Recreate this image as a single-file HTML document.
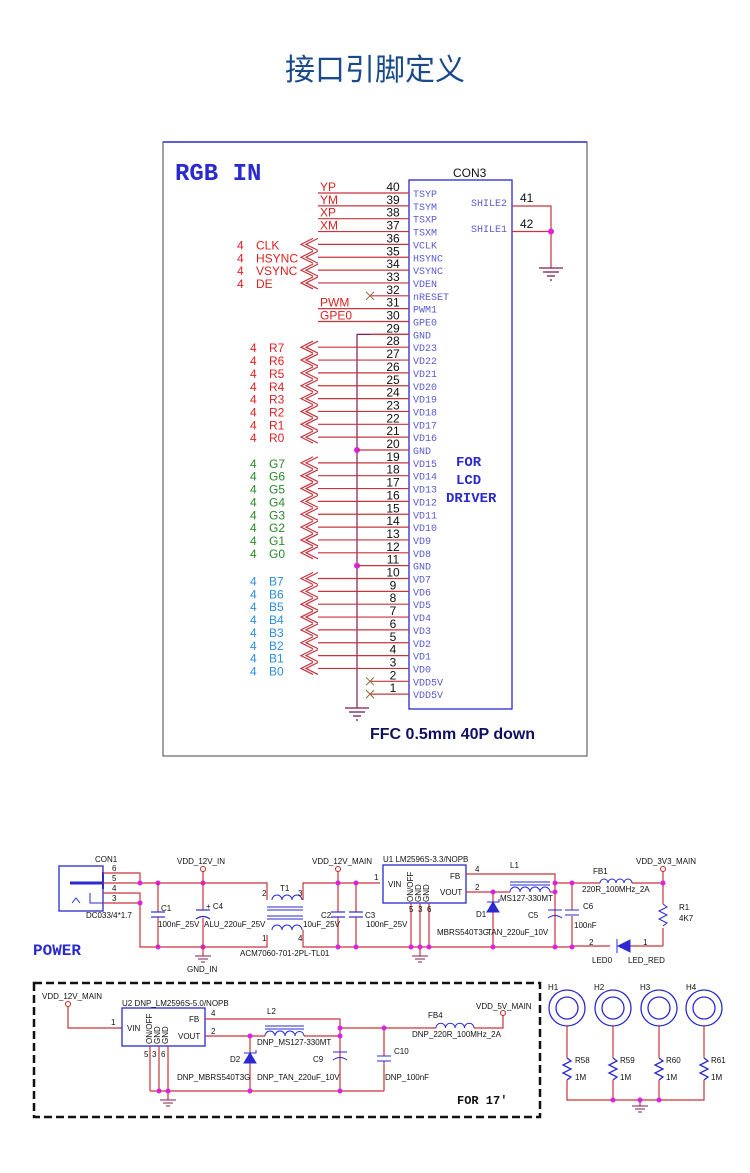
<!DOCTYPE html>
<html><head><meta charset="utf-8"><style>
body{margin:0;background:#fff;}
svg{display:block;font-family:"Liberation Sans",Arial,sans-serif;}
.pn{font-size:12px;fill:#111;text-anchor:middle}
.pl{font-family:"Liberation Mono",monospace;font-size:10px;fill:#5a5ad0}
.rd{fill:#e02020;font-size:12px}
.gr{fill:#2a8a2a;font-size:12px}
.bl{fill:#2d8ee0;font-size:12px}
.t{font-size:8px;fill:#111}
.w{stroke:#c8343c;stroke-width:1.2;fill:none}
.m{stroke:#7a1e52;stroke-width:1.2;fill:none}
.d{fill:#e020e0}
.bx{stroke:#2a2ad0;stroke-width:1.3;fill:none}
</style></head><body>
<svg width="750" height="1173" viewBox="0 0 750 1173" xmlns="http://www.w3.org/2000/svg">
<text x="375" y="80" text-anchor="middle" font-family="'Liberation Sans','Noto Sans CJK SC',sans-serif" font-size="30" fill="#1b4a8a">接口引脚定义</text>
<rect x="163" y="142" width="424" height="614" fill="none" stroke="#444" stroke-width="1"/>
<line x1="163" y1="142" x2="587" y2="142" stroke="#2a2ad0" stroke-width="1.5"/>
<text x="175" y="180" font-family="'Liberation Mono',monospace" font-weight="bold" font-size="24" fill="#2a2ad0">RGB IN</text>
<text x="453" y="177" font-size="12" fill="#111">CON3</text>
<rect x="409" y="180" width="103" height="529" class="bx"/>
<!-- shield -->
<polyline points="512,206 551,206 551,268" class="w"/><line x1="512" y1="231.5" x2="551" y2="231.5" class="w"/>
<circle cx="551" cy="231.5" r="3" class="d"/>
<text x="520" y="202" class="pn" style="text-anchor:start">41</text><text x="520" y="228" class="pn" style="text-anchor:start">42</text>
<text x="507" y="206" class="pl" text-anchor="end">SHILE2</text><text x="507" y="232" class="pl" text-anchor="end">SHILE1</text>
<g stroke="#7a1e52" stroke-width="1.3"><line x1="539" y1="268" x2="563" y2="268"/><line x1="543" y1="272" x2="559" y2="272"/><line x1="547" y1="276" x2="555" y2="276"/><line x1="550" y1="280" x2="552" y2="280"/></g>
<!-- GND bus -->
<polyline points="409,334.4 357,334.4 357,708" class="m"/>
<circle cx="357" cy="450" r="3" class="d"/><circle cx="357" cy="565.7" r="3" class="d"/>
<g stroke="#7a1e52" stroke-width="1.3"><line x1="345" y1="708" x2="369" y2="708"/><line x1="349" y1="712" x2="365" y2="712"/><line x1="353" y1="716" x2="361" y2="716"/><line x1="356" y1="720" x2="358" y2="720"/></g>
<g id="rows">
<!-- rows -->
<g transform="translate(0,193)"><line x1="318" y1="0" x2="409" y2="0" class="w"/><text x="393" y="-2" class="pn">40</text><text x="413" y="4" class="pl">TSYP</text><text x="320" y="-2" class="rd">YP</text></g>
<g transform="translate(0,205.85)"><line x1="318" y1="0" x2="409" y2="0" class="w"/><text x="393" y="-2" class="pn">39</text><text x="413" y="4" class="pl">TSYM</text><text x="320" y="-2" class="rd">YM</text></g>
<g transform="translate(0,218.7)"><line x1="318" y1="0" x2="409" y2="0" class="w"/><text x="393" y="-2" class="pn">38</text><text x="413" y="4" class="pl">TSXP</text><text x="320" y="-2" class="rd">XP</text></g>
<g transform="translate(0,231.55)"><line x1="318" y1="0" x2="409" y2="0" class="w"/><text x="393" y="-2" class="pn">37</text><text x="413" y="4" class="pl">TSXM</text><text x="320" y="-2" class="rd">XM</text></g>
<g transform="translate(0,244.4)"><line x1="318" y1="0" x2="409" y2="0" class="w"/><text x="393" y="-2" class="pn">36</text><text x="413" y="4" class="pl">VCLK</text><text x="237" y="5" class="rd">4</text><text x="256" y="5" class="rd">CLK</text><path d="M318,-6 L306,0 L318,6 M313,-6 L301,0 L313,6" class="w"/></g>
<g transform="translate(0,257.25)"><line x1="318" y1="0" x2="409" y2="0" class="w"/><text x="393" y="-2" class="pn">35</text><text x="413" y="4" class="pl">HSYNC</text><text x="237" y="5" class="rd">4</text><text x="256" y="5" class="rd">HSYNC</text><path d="M318,-6 L306,0 L318,6 M313,-6 L301,0 L313,6" class="w"/></g>
<g transform="translate(0,270.1)"><line x1="318" y1="0" x2="409" y2="0" class="w"/><text x="393" y="-2" class="pn">34</text><text x="413" y="4" class="pl">VSYNC</text><text x="237" y="5" class="rd">4</text><text x="256" y="5" class="rd">VSYNC</text><path d="M318,-6 L306,0 L318,6 M313,-6 L301,0 L313,6" class="w"/></g>
<g transform="translate(0,282.95)"><line x1="318" y1="0" x2="409" y2="0" class="w"/><text x="393" y="-2" class="pn">33</text><text x="413" y="4" class="pl">VDEN</text><text x="237" y="5" class="rd">4</text><text x="256" y="5" class="rd">DE</text><path d="M318,-6 L306,0 L318,6 M313,-6 L301,0 L313,6" class="w"/></g>
<g transform="translate(0,295.8)"><line x1="370" y1="0" x2="409" y2="0" class="w"/><text x="393" y="-2" class="pn">32</text><text x="413" y="4" class="pl">nRESET</text><path d="M366,-4 L374,4 M366,4 L374,-4" stroke="#8a6a3a" stroke-width="1"/></g>
<g transform="translate(0,308.65)"><line x1="318" y1="0" x2="409" y2="0" class="w"/><text x="393" y="-2" class="pn">31</text><text x="413" y="4" class="pl">PWM1</text><text x="320" y="-2" class="rd">PWM</text></g>
<g transform="translate(0,321.5)"><line x1="318" y1="0" x2="409" y2="0" class="w"/><text x="393" y="-2" class="pn">30</text><text x="413" y="4" class="pl">GPE0</text><text x="320" y="-2" class="rd">GPE0</text></g>
<g transform="translate(0,334.35)"><line x1="370" y1="0" x2="409" y2="0" class="w"/><text x="393" y="-2" class="pn">29</text><text x="413" y="4" class="pl">GND</text></g>
<g transform="translate(0,347.2)"><line x1="318" y1="0" x2="409" y2="0" class="w"/><text x="393" y="-2" class="pn">28</text><text x="413" y="4" class="pl">VD23</text><text x="250" y="5" class="rd">4</text><text x="269" y="5" class="rd">R7</text><path d="M318,-6 L306,0 L318,6 M313,-6 L301,0 L313,6" class="w"/></g>
<g transform="translate(0,360.05)"><line x1="318" y1="0" x2="409" y2="0" class="w"/><text x="393" y="-2" class="pn">27</text><text x="413" y="4" class="pl">VD22</text><text x="250" y="5" class="rd">4</text><text x="269" y="5" class="rd">R6</text><path d="M318,-6 L306,0 L318,6 M313,-6 L301,0 L313,6" class="w"/></g>
<g transform="translate(0,372.9)"><line x1="318" y1="0" x2="409" y2="0" class="w"/><text x="393" y="-2" class="pn">26</text><text x="413" y="4" class="pl">VD21</text><text x="250" y="5" class="rd">4</text><text x="269" y="5" class="rd">R5</text><path d="M318,-6 L306,0 L318,6 M313,-6 L301,0 L313,6" class="w"/></g>
<g transform="translate(0,385.75)"><line x1="318" y1="0" x2="409" y2="0" class="w"/><text x="393" y="-2" class="pn">25</text><text x="413" y="4" class="pl">VD20</text><text x="250" y="5" class="rd">4</text><text x="269" y="5" class="rd">R4</text><path d="M318,-6 L306,0 L318,6 M313,-6 L301,0 L313,6" class="w"/></g>
<g transform="translate(0,398.6)"><line x1="318" y1="0" x2="409" y2="0" class="w"/><text x="393" y="-2" class="pn">24</text><text x="413" y="4" class="pl">VD19</text><text x="250" y="5" class="rd">4</text><text x="269" y="5" class="rd">R3</text><path d="M318,-6 L306,0 L318,6 M313,-6 L301,0 L313,6" class="w"/></g>
<g transform="translate(0,411.45)"><line x1="318" y1="0" x2="409" y2="0" class="w"/><text x="393" y="-2" class="pn">23</text><text x="413" y="4" class="pl">VD18</text><text x="250" y="5" class="rd">4</text><text x="269" y="5" class="rd">R2</text><path d="M318,-6 L306,0 L318,6 M313,-6 L301,0 L313,6" class="w"/></g>
<g transform="translate(0,424.3)"><line x1="318" y1="0" x2="409" y2="0" class="w"/><text x="393" y="-2" class="pn">22</text><text x="413" y="4" class="pl">VD17</text><text x="250" y="5" class="rd">4</text><text x="269" y="5" class="rd">R1</text><path d="M318,-6 L306,0 L318,6 M313,-6 L301,0 L313,6" class="w"/></g>
<g transform="translate(0,437.15)"><line x1="318" y1="0" x2="409" y2="0" class="w"/><text x="393" y="-2" class="pn">21</text><text x="413" y="4" class="pl">VD16</text><text x="250" y="5" class="rd">4</text><text x="269" y="5" class="rd">R0</text><path d="M318,-6 L306,0 L318,6 M313,-6 L301,0 L313,6" class="w"/></g>
<g transform="translate(0,450)"><line x1="357" y1="0" x2="409" y2="0" class="w"/><text x="393" y="-2" class="pn">20</text><text x="413" y="4" class="pl">GND</text></g>
<g transform="translate(0,462.85)"><line x1="318" y1="0" x2="409" y2="0" class="w"/><text x="393" y="-2" class="pn">19</text><text x="413" y="4" class="pl">VD15</text><text x="250" y="5" class="gr">4</text><text x="269" y="5" class="gr">G7</text><path d="M318,-6 L306,0 L318,6 M313,-6 L301,0 L313,6" class="w"/></g>
<g transform="translate(0,475.7)"><line x1="318" y1="0" x2="409" y2="0" class="w"/><text x="393" y="-2" class="pn">18</text><text x="413" y="4" class="pl">VD14</text><text x="250" y="5" class="gr">4</text><text x="269" y="5" class="gr">G6</text><path d="M318,-6 L306,0 L318,6 M313,-6 L301,0 L313,6" class="w"/></g>
<g transform="translate(0,488.55)"><line x1="318" y1="0" x2="409" y2="0" class="w"/><text x="393" y="-2" class="pn">17</text><text x="413" y="4" class="pl">VD13</text><text x="250" y="5" class="gr">4</text><text x="269" y="5" class="gr">G5</text><path d="M318,-6 L306,0 L318,6 M313,-6 L301,0 L313,6" class="w"/></g>
<g transform="translate(0,501.4)"><line x1="318" y1="0" x2="409" y2="0" class="w"/><text x="393" y="-2" class="pn">16</text><text x="413" y="4" class="pl">VD12</text><text x="250" y="5" class="gr">4</text><text x="269" y="5" class="gr">G4</text><path d="M318,-6 L306,0 L318,6 M313,-6 L301,0 L313,6" class="w"/></g>
<g transform="translate(0,514.25)"><line x1="318" y1="0" x2="409" y2="0" class="w"/><text x="393" y="-2" class="pn">15</text><text x="413" y="4" class="pl">VD11</text><text x="250" y="5" class="gr">4</text><text x="269" y="5" class="gr">G3</text><path d="M318,-6 L306,0 L318,6 M313,-6 L301,0 L313,6" class="w"/></g>
<g transform="translate(0,527.1)"><line x1="318" y1="0" x2="409" y2="0" class="w"/><text x="393" y="-2" class="pn">14</text><text x="413" y="4" class="pl">VD10</text><text x="250" y="5" class="gr">4</text><text x="269" y="5" class="gr">G2</text><path d="M318,-6 L306,0 L318,6 M313,-6 L301,0 L313,6" class="w"/></g>
<g transform="translate(0,539.95)"><line x1="318" y1="0" x2="409" y2="0" class="w"/><text x="393" y="-2" class="pn">13</text><text x="413" y="4" class="pl">VD9</text><text x="250" y="5" class="gr">4</text><text x="269" y="5" class="gr">G1</text><path d="M318,-6 L306,0 L318,6 M313,-6 L301,0 L313,6" class="w"/></g>
<g transform="translate(0,552.8)"><line x1="318" y1="0" x2="409" y2="0" class="w"/><text x="393" y="-2" class="pn">12</text><text x="413" y="4" class="pl">VD8</text><text x="250" y="5" class="gr">4</text><text x="269" y="5" class="gr">G0</text><path d="M318,-6 L306,0 L318,6 M313,-6 L301,0 L313,6" class="w"/></g>
<g transform="translate(0,565.65)"><line x1="357" y1="0" x2="409" y2="0" class="w"/><text x="393" y="-2" class="pn">11</text><text x="413" y="4" class="pl">GND</text></g>
<g transform="translate(0,578.5)"><line x1="318" y1="0" x2="409" y2="0" class="w"/><text x="393" y="-2" class="pn">10</text><text x="413" y="4" class="pl">VD7</text><text x="250" y="7" class="bl">4</text><text x="269" y="7" class="bl">B7</text><path d="M318,-6 L306,0 L318,6 M313,-6 L301,0 L313,6" class="w"/></g>
<g transform="translate(0,591.35)"><line x1="318" y1="0" x2="409" y2="0" class="w"/><text x="393" y="-2" class="pn">9</text><text x="413" y="4" class="pl">VD6</text><text x="250" y="7" class="bl">4</text><text x="269" y="7" class="bl">B6</text><path d="M318,-6 L306,0 L318,6 M313,-6 L301,0 L313,6" class="w"/></g>
<g transform="translate(0,604.2)"><line x1="318" y1="0" x2="409" y2="0" class="w"/><text x="393" y="-2" class="pn">8</text><text x="413" y="4" class="pl">VD5</text><text x="250" y="7" class="bl">4</text><text x="269" y="7" class="bl">B5</text><path d="M318,-6 L306,0 L318,6 M313,-6 L301,0 L313,6" class="w"/></g>
<g transform="translate(0,617.05)"><line x1="318" y1="0" x2="409" y2="0" class="w"/><text x="393" y="-2" class="pn">7</text><text x="413" y="4" class="pl">VD4</text><text x="250" y="7" class="bl">4</text><text x="269" y="7" class="bl">B4</text><path d="M318,-6 L306,0 L318,6 M313,-6 L301,0 L313,6" class="w"/></g>
<g transform="translate(0,629.9)"><line x1="318" y1="0" x2="409" y2="0" class="w"/><text x="393" y="-2" class="pn">6</text><text x="413" y="4" class="pl">VD3</text><text x="250" y="7" class="bl">4</text><text x="269" y="7" class="bl">B3</text><path d="M318,-6 L306,0 L318,6 M313,-6 L301,0 L313,6" class="w"/></g>
<g transform="translate(0,642.75)"><line x1="318" y1="0" x2="409" y2="0" class="w"/><text x="393" y="-2" class="pn">5</text><text x="413" y="4" class="pl">VD2</text><text x="250" y="7" class="bl">4</text><text x="269" y="7" class="bl">B2</text><path d="M318,-6 L306,0 L318,6 M313,-6 L301,0 L313,6" class="w"/></g>
<g transform="translate(0,655.6)"><line x1="318" y1="0" x2="409" y2="0" class="w"/><text x="393" y="-2" class="pn">4</text><text x="413" y="4" class="pl">VD1</text><text x="250" y="7" class="bl">4</text><text x="269" y="7" class="bl">B1</text><path d="M318,-6 L306,0 L318,6 M313,-6 L301,0 L313,6" class="w"/></g>
<g transform="translate(0,668.45)"><line x1="318" y1="0" x2="409" y2="0" class="w"/><text x="393" y="-2" class="pn">3</text><text x="413" y="4" class="pl">VD0</text><text x="250" y="7" class="bl">4</text><text x="269" y="7" class="bl">B0</text><path d="M318,-6 L306,0 L318,6 M313,-6 L301,0 L313,6" class="w"/></g>
<g transform="translate(0,681.3)"><line x1="370" y1="0" x2="409" y2="0" class="w"/><text x="393" y="-2" class="pn">2</text><text x="413" y="4" class="pl">VDD5V</text><path d="M366,-4 L374,4 M366,4 L374,-4" stroke="#8a6a3a" stroke-width="1"/></g>
<g transform="translate(0,694.15)"><line x1="370" y1="0" x2="409" y2="0" class="w"/><text x="393" y="-2" class="pn">1</text><text x="413" y="4" class="pl">VDD5V</text><path d="M366,-4 L374,4 M366,4 L374,-4" stroke="#8a6a3a" stroke-width="1"/></g>
</g>
<g font-family="'Liberation Mono',monospace" font-weight="bold" font-size="14" fill="#2a2ad0"><text x="456" y="466">FOR</text><text x="456" y="484">LCD</text><text x="446" y="502">DRIVER</text></g>
<text x="370" y="739" font-weight="bold" font-size="16" fill="#101060">FFC 0.5mm 40P down</text>

<!-- POWER upper -->
<text x="33" y="955" font-family="'Liberation Mono',monospace" font-weight="bold" font-size="16" fill="#2a2ad0">POWER</text>
<rect x="59" y="866" width="44" height="45" class="bx"/>
<line x1="70" y1="883" x2="103" y2="883" stroke="#2a2ad0" stroke-width="3"/><line x1="103" y1="872" x2="103" y2="889" stroke="#2a2ad0" stroke-width="2"/>
<path d="M90,893 L90,903 L103,903 M72,903 L76,898 L80,903" stroke="#2a2ad0" fill="none"/>
<text x="95" y="862" class="t">CON1</text><text x="86" y="918" class="t">DC033/4*1.7</text>
<g class="t" font-size="8"><text x="112" y="871">6</text><text x="112" y="881">5</text><text x="112" y="891">4</text><text x="112" y="901">3</text></g>
<g class="w"><polyline points="103,873 140,873 140,883"/><polyline points="103,893 140,893 140,903"/><line x1="103" y1="903" x2="140" y2="903"/><polyline points="140,903 140,947 267,947 267,935"/><polyline points="103,883 267,883 267,900"/></g>
<circle cx="140" cy="883" r="2.5" class="d"/><circle cx="140" cy="903" r="2.5" class="d"/>
<circle cx="158" cy="883" r="2.5" class="d"/><circle cx="203" cy="883" r="2.5" class="d"/><circle cx="158" cy="947" r="2.5" class="d"/><circle cx="203" cy="947" r="2.5" class="d"/>
<g class="w"><line x1="158" y1="883" x2="158" y2="912"/><line x1="158" y1="917" x2="158" y2="947"/><line x1="203" y1="870" x2="203" y2="910"/><line x1="203" y1="918" x2="203" y2="956"/></g>
<g stroke="#2a2ad0" stroke-width="1.2" fill="none"><line x1="151" y1="912" x2="165" y2="912"/><line x1="151" y1="917" x2="165" y2="917"/><line x1="196" y1="910" x2="210" y2="910"/><path d="M196,919 Q203,914 210,919"/></g>
<circle cx="203" cy="869" r="2.5" fill="#fff" stroke="#d02020"/>
<text x="177" y="864" class="t">VDD_12V_IN</text><text x="161" y="911" class="t">C1</text><text x="206" y="909" class="t">+ C4</text>
<text x="158" y="927" class="t">100nF_25V</text><text x="204" y="927" class="t">ALU_220uF_25V</text>
<g stroke="#7a1e52"><line x1="195" y1="956" x2="211" y2="956"/><line x1="198" y1="959" x2="208" y2="959"/><line x1="201" y1="962" x2="205" y2="962"/></g>
<text x="187" y="972" class="t">GND_IN</text>
<!-- T1 -->
<g stroke="#2a2ad0" fill="none"><path d="M272,900 a5,5 0 0 1 10,0 a5,5 0 0 1 10,0 a5,5 0 0 1 10,0"/><path d="M272,930 a5,5 0 0 1 10,0 a5,5 0 0 1 10,0 a5,5 0 0 1 10,0"/><line x1="267" y1="907" x2="303" y2="907"/><line x1="267" y1="910" x2="303" y2="910"/><line x1="267" y1="916" x2="303" y2="916"/><line x1="267" y1="919" x2="303" y2="919"/></g>
<text x="280" y="891" class="t">T1</text><text x="262" y="896" class="t" font-size="7">2</text><text x="262" y="941" class="t" font-size="7">1</text><text x="298" y="896" class="t" font-size="7">3</text><text x="298" y="941" class="t" font-size="7">4</text>
<text x="240" y="956" class="t">ACM7060-701-2PL-TL01</text>
<g class="w"><polyline points="303,900 303,883 380,883"/><polyline points="303,930 303,947 420,947"/><line x1="338" y1="869" x2="338" y2="912"/><line x1="338" y1="917" x2="338" y2="947"/><line x1="356" y1="883" x2="356" y2="912"/><line x1="356" y1="917" x2="356" y2="947"/></g>
<g stroke="#2a2ad0" stroke-width="1.2"><line x1="331" y1="912" x2="345" y2="912"/><line x1="331" y1="917" x2="345" y2="917"/><line x1="349" y1="912" x2="363" y2="912"/><line x1="349" y1="917" x2="363" y2="917"/></g>
<circle cx="338" cy="883" r="2.5" class="d"/><circle cx="356" cy="883" r="2.5" class="d"/><circle cx="338" cy="947" r="2.5" class="d"/><circle cx="356" cy="947" r="2.5" class="d"/>
<circle cx="338" cy="869" r="2.5" fill="#fff" stroke="#d02020"/>
<text x="312" y="864" class="t">VDD_12V_MAIN</text><text x="321" y="918" class="t">C2</text><text x="365" y="918" class="t">C3</text><text x="303" y="927" class="t">10uF_25V</text><text x="366" y="927" class="t">100nF_25V</text>
<text x="374" y="880" class="t">1</text>
<!-- U1 -->
<rect x="383" y="865" width="83" height="38" class="bx"/>
<text x="383" y="862" class="t">U1   LM2596S-3.3/NOPB</text>
<text x="388" y="887" class="t">VIN</text><text x="450" y="879" class="t">FB</text><text x="440" y="895" class="t">VOUT</text>
<text x="413" y="902" class="t" transform="rotate(-90 413 902)">ON/OFF</text><text x="421" y="902" class="t" transform="rotate(-90 421 902)">GND</text><text x="429" y="902" class="t" transform="rotate(-90 429 902)">GND</text>
<g class="w"><line x1="411" y1="903" x2="411" y2="947"/><line x1="420" y1="903" x2="420" y2="956"/><line x1="429" y1="903" x2="429" y2="947"/><polyline points="466,874 555,874 555,947"/><line x1="466" y1="892" x2="510" y2="892"/><line x1="493" y1="892" x2="493" y2="947"/><line x1="420" y1="947" x2="572" y2="947"/><line x1="555" y1="883" x2="600" y2="883"/><line x1="632" y1="883" x2="663" y2="883"/><line x1="663" y1="869" x2="663" y2="904"/><line x1="663" y1="928" x2="663" y2="946"/><line x1="663" y1="946" x2="630" y2="946"/><line x1="610" y1="946" x2="572" y2="946"/><line x1="572" y1="883" x2="572" y2="910"/><line x1="572" y1="916" x2="572" y2="947"/><line x1="550" y1="892" x2="555" y2="892"/></g>
<text x="475" y="872" class="t">4</text><text x="475" y="890" class="t">2</text><text x="409" y="912" class="t" font-size="7">5</text><text x="418" y="912" class="t" font-size="7">3</text><text x="427" y="912" class="t" font-size="7">6</text>
<circle cx="411" cy="947" r="2.5" class="d"/><circle cx="420" cy="947" r="2.5" class="d"/><circle cx="429" cy="947" r="2.5" class="d"/><circle cx="493" cy="892" r="2.5" class="d"/><circle cx="493" cy="947" r="2.5" class="d"/><circle cx="555" cy="883" r="2.5" class="d"/><circle cx="555" cy="892" r="2.5" class="d"/><circle cx="555" cy="947" r="2.5" class="d"/><circle cx="572" cy="883" r="2.5" class="d"/><circle cx="572" cy="947" r="2.5" class="d"/><circle cx="663" cy="883" r="2.5" class="d"/>
<g stroke="#7a1e52"><line x1="412" y1="956" x2="428" y2="956"/><line x1="415" y1="959" x2="425" y2="959"/><line x1="418" y1="962" x2="422" y2="962"/></g>
<g stroke="#2a2ad0" fill="none"><path d="M510,892 a5,5 0 0 1 10,0 a5,5 0 0 1 10,0 a5,5 0 0 1 10,0 a5,5 0 0 1 10,0"/><line x1="510" y1="882" x2="550" y2="882"/><line x1="510" y1="885" x2="550" y2="885"/><path d="M487,912 L499,912 L493,902 Z" fill="#2a2ad0"/><path d="M487,902 L499,902 L499,899"/><line x1="548" y1="910" x2="562" y2="910"/><path d="M548,918 Q555,913 562,918"/><line x1="565" y1="910" x2="579" y2="910"/><line x1="565" y1="915" x2="579" y2="915"/><path d="M600,883 a4,4 0 0 1 8,0 a4,4 0 0 1 8,0 a4,4 0 0 1 8,0 a4,4 0 0 1 8,0"/><path d="M663,904 l4,3 -8,4 8,4 -8,4 8,4 -4,3"/><path d="M630,940 L630,952 L618,946 Z" fill="#2a2ad0"/><line x1="617" y1="939" x2="617" y2="953"/></g>
<circle cx="663" cy="869" r="2.5" fill="#fff" stroke="#d02020"/>
<text x="510" y="868" class="t">L1</text><text x="500" y="901" class="t">MS127-330MT</text><text x="476" y="917" class="t">D1</text><text x="528" y="918" class="t">C5</text><text x="583" y="909" class="t">C6</text><text x="574" y="928" class="t">100nF</text>
<text x="437" y="935" class="t">MBRS540T3G</text><text x="487" y="935" class="t">TAN_220uF_10V</text>
<text x="593" y="874" class="t">FB1</text><text x="582" y="892" class="t">220R_100MHz_2A</text><text x="636" y="864" class="t">VDD_3V3_MAIN</text>
<text x="679" y="910" class="t">R1</text><text x="679" y="921" class="t">4K7</text><text x="589" y="945" class="t">2</text><text x="643" y="945" class="t">1</text><text x="592" y="963" class="t">LED0</text><text x="628" y="963" class="t">LED_RED</text>
<!-- dashed box -->
<rect x="34" y="983" width="506" height="134" fill="none" stroke="#111" stroke-width="2.5" stroke-dasharray="8,4"/>
<text x="42" y="999" class="t">VDD_12V_MAIN</text><circle cx="68" cy="1004" r="2.5" fill="#fff" stroke="#d02020"/>
<polyline points="68,1007 68,1028 122,1028" class="w"/><text x="111" y="1025" class="t">1</text>
<rect x="122" y="1008" width="83" height="38" class="bx"/>
<text x="122" y="1006" class="t">U2   DNP_LM2596S-5.0/NOPB</text>
<text x="127" y="1031" class="t">VIN</text><text x="189" y="1022" class="t">FB</text><text x="178" y="1039" class="t">VOUT</text>
<text x="152" y="1044" class="t" transform="rotate(-90 152 1044)">ON/OFF</text><text x="160" y="1044" class="t" transform="rotate(-90 160 1044)">GND</text><text x="168" y="1044" class="t" transform="rotate(-90 168 1044)">GND</text>
<text x="144" y="1057" class="t" font-size="7">5</text><text x="152" y="1057" class="t" font-size="7">3</text><text x="161" y="1057" class="t" font-size="7">6</text>
<g class="w"><line x1="150" y1="1046" x2="150" y2="1091"/><line x1="159" y1="1046" x2="159" y2="1091"/><line x1="168" y1="1046" x2="168" y2="1100"/><line x1="150" y1="1091" x2="384" y2="1091"/><polyline points="205,1019 340,1019 340,1091"/><line x1="205" y1="1036" x2="265" y2="1036"/><line x1="250" y1="1036" x2="250" y2="1091"/><line x1="304" y1="1036" x2="340" y2="1036"/><line x1="340" y1="1028" x2="436" y2="1028"/><polyline points="474,1028 503,1028 503,1016"/><line x1="384" y1="1028" x2="384" y2="1056"/><line x1="384" y1="1061" x2="384" y2="1091"/></g>
<text x="211" y="1016" class="t">4</text><text x="211" y="1034" class="t">2</text>
<circle cx="159" cy="1091" r="2.5" class="d"/><circle cx="168" cy="1091" r="2.5" class="d"/><circle cx="250" cy="1036" r="2.5" class="d"/><circle cx="250" cy="1091" r="2.5" class="d"/><circle cx="340" cy="1028" r="2.5" class="d"/><circle cx="340" cy="1036" r="2.5" class="d"/><circle cx="340" cy="1091" r="2.5" class="d"/><circle cx="384" cy="1028" r="2.5" class="d"/>
<g stroke="#7a1e52"><line x1="160" y1="1100" x2="176" y2="1100"/><line x1="163" y1="1103" x2="173" y2="1103"/><line x1="166" y1="1106" x2="170" y2="1106"/></g>
<g stroke="#2a2ad0" fill="none"><path d="M265,1036 a5,5 0 0 1 10,0 a5,5 0 0 1 10,0 a5,5 0 0 1 10,0 a4.5,4.5 0 0 1 9,0"/><line x1="265" y1="1026" x2="304" y2="1026"/><line x1="265" y1="1029" x2="304" y2="1029"/><path d="M244,1063 L256,1063 L250,1053 Z" fill="#2a2ad0"/><path d="M244,1053 L256,1053 L256,1050"/><line x1="333" y1="1052" x2="347" y2="1052"/><path d="M333,1060 Q340,1055 347,1060"/><line x1="377" y1="1056" x2="391" y2="1056"/><line x1="377" y1="1061" x2="391" y2="1061"/><path d="M436,1028 a4.75,4.75 0 0 1 9.5,0 a4.75,4.75 0 0 1 9.5,0 a4.75,4.75 0 0 1 9.5,0 a4.75,4.75 0 0 1 9.5,0"/></g>
<circle cx="503" cy="1013" r="2.5" fill="#fff" stroke="#d02020"/>
<text x="267" y="1014" class="t">L2</text><text x="257" y="1045" class="t">DNP_MS127-330MT</text><text x="230" y="1062" class="t">D2</text><text x="313" y="1062" class="t">C9</text><text x="394" y="1054" class="t">C10</text>
<text x="177" y="1080" class="t">DNP_MBRS540T3G</text><text x="257" y="1080" class="t">DNP_TAN_220uF_10V</text><text x="385" y="1080" class="t">DNP_100nF</text>
<text x="428" y="1018" class="t">FB4</text><text x="412" y="1037" class="t">DNP_220R_100MHz_2A</text><text x="476" y="1009" class="t">VDD_5V_MAIN</text>
<text x="457" y="1104" font-family="'Liberation Mono',monospace" font-weight="bold" font-size="12" fill="#111">FOR 17'</text>
<!-- H -->
<g stroke="#2a2ad0" stroke-width="1.3" fill="none">
<circle cx="567" cy="1008" r="18"/><circle cx="567" cy="1008" r="11"/>
<circle cx="613" cy="1008" r="18"/><circle cx="613" cy="1008" r="11"/>
<circle cx="659" cy="1008" r="18"/><circle cx="659" cy="1008" r="11"/>
<circle cx="704" cy="1008" r="18"/><circle cx="704" cy="1008" r="11"/>
<path d="M567,1058 l4,3 -8,4 8,4 -8,4 8,4 -4,3"/><path d="M613,1058 l4,3 -8,4 8,4 -8,4 8,4 -4,3"/><path d="M659,1058 l4,3 -8,4 8,4 -8,4 8,4 -4,3"/><path d="M704,1058 l4,3 -8,4 8,4 -8,4 8,4 -4,3"/></g>
<g class="w"><line x1="567" y1="1026" x2="567" y2="1058"/><line x1="613" y1="1026" x2="613" y2="1058"/><line x1="659" y1="1026" x2="659" y2="1058"/><line x1="704" y1="1026" x2="704" y2="1058"/><polyline points="567,1080 567,1100 704,1100 704,1080"/><line x1="613" y1="1080" x2="613" y2="1100"/><line x1="659" y1="1080" x2="659" y2="1100"/><line x1="640" y1="1100" x2="640" y2="1106"/></g>
<circle cx="613" cy="1100" r="2.5" class="d"/><circle cx="640" cy="1100" r="2.5" class="d"/><circle cx="659" cy="1100" r="2.5" class="d"/>
<g stroke="#7a1e52"><line x1="632" y1="1106" x2="648" y2="1106"/><line x1="635" y1="1109" x2="645" y2="1109"/><line x1="638" y1="1112" x2="642" y2="1112"/></g>
<text x="548" y="990" class="t">H1</text><text x="594" y="990" class="t">H2</text><text x="640" y="990" class="t">H3</text><text x="686" y="990" class="t">H4</text>
<text x="575" y="1063" class="t">R58</text><text x="620" y="1063" class="t">R59</text><text x="666" y="1063" class="t">R60</text><text x="711" y="1063" class="t">R61</text>
<text x="575" y="1080" class="t">1M</text><text x="620" y="1080" class="t">1M</text><text x="666" y="1080" class="t">1M</text><text x="711" y="1080" class="t">1M</text>
</svg>
</body></html>
